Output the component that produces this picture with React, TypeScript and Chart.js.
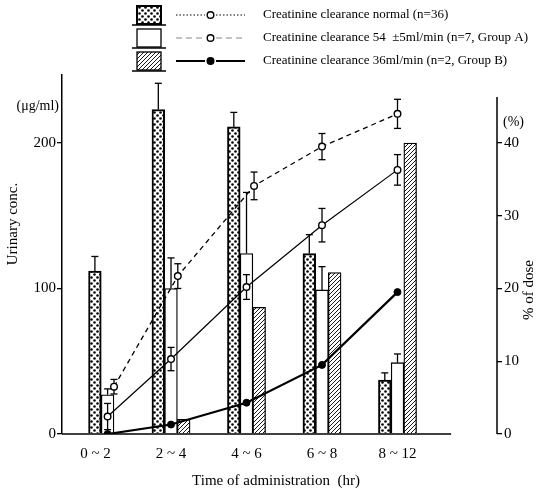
import React, { useEffect, useRef } from 'react';
import { Chart, registerables } from 'chart.js';

Chart.register(...registerables);

// ---- data ----
const categories = ['0 ~ 2', '2 ~ 4', '4 ~ 6', '6 ~ 8', '8 ~ 12'];
const categoryPos = [0, 1, 2, 3, 4];
const groupPos = [0.16, 1, 2, 3, 4];
const normalPos = [0.245, 1.09, 2.1, 3, 4];

// urinary concentration (µg/ml) - left axis
const concNormal = [112, 223, 211, 124, 37];
const concNormalErr = [10, 18, 10, 13, 5];
const concA = [27, 100, 124, 99, 49];
const concAErr = [4, 21, 42, 16, 6];
const concB: (number | null)[] = [null, 10, 87, 111, 200];

// cumulative % of dose - right axis
const doseNormal = [6.5, 21.7, 34.1, 39.5, 44];
const doseNormalErr = [1, 1.7, 1.9, 1.8, 2];
const doseA = [2.4, 10.3, 20.2, 28.7, 36.3];
const doseAErr = [1.8, 1.6, 1.7, 2.3, 2.1];
const doseB = [0, 1.3, 4.3, 9.5, 19.5];

const leftTicks = [0, 100, 200];
const rightTicks = [0, 10, 20, 30, 40];

const legendLabels = [
  'Creatinine clearance normal (n=36)',
  'Creatinine clearance 54  \u00b15ml/min (n=7, Group A)',
  'Creatinine clearance 36ml/min (n=2, Group B)',
];

const FONT = '"Liberation Serif", "Times New Roman", serif';

function makeDots(ctx: CanvasRenderingContext2D) {
  const c = document.createElement('canvas');
  c.width = 6;
  c.height = 6;
  const g = c.getContext('2d')!;
  g.fillStyle = '#fff';
  g.fillRect(0, 0, 6, 6);
  g.fillStyle = '#000';
  for (const [px, py] of [[1.5, 1.5], [4.5, 4.5]]) {
    g.beginPath();
    g.arc(px, py, 1.3, 0, Math.PI * 2);
    g.fill();
  }
  return ctx.createPattern(c, 'repeat')!;
}

function makeHatch(ctx: CanvasRenderingContext2D) {
  const c = document.createElement('canvas');
  c.width = 4;
  c.height = 4;
  const g = c.getContext('2d')!;
  g.fillStyle = '#fff';
  g.fillRect(0, 0, 4, 4);
  g.strokeStyle = '#000';
  g.lineWidth = 0.9;
  g.beginPath();
  g.moveTo(0, 4); g.lineTo(4, 0);
  g.moveTo(-1, 1); g.lineTo(1, -1);
  g.moveTo(3, 5); g.lineTo(5, 3);
  g.stroke();
  return ctx.createPattern(c, 'repeat')!;
}

function seg(ctx: CanvasRenderingContext2D, x1: number, y1: number, x2: number, y2: number) {
  ctx.beginPath();
  ctx.moveTo(x1, y1);
  ctx.lineTo(x2, y2);
  ctx.stroke();
}

export default function App() {
  const ref = useRef<HTMLCanvasElement | null>(null);

  useEffect(() => {
    const canvas = ref.current!;
    const ctx0 = canvas.getContext('2d')!;
    const dots = makeDots(ctx0);
    const hatch = makeHatch(ctx0);

    const barErr: Record<number, { vals: (number | null)[]; errs: number[] }> = {
      0: { vals: concNormal, errs: concNormalErr },
      1: { vals: concA, errs: concAErr },
    };
    const lineErr: Record<number, { vals: number[]; errs: number[] }> = {
      3: { vals: doseNormal, errs: doseNormalErr },
      4: { vals: doseA, errs: doseAErr },
    };

    const decor = {
      id: 'decor',
      afterDatasetDraw(chart: any, args: any) {
        const e = barErr[args.index];
        if (!e) return;
        const { ctx } = chart;
        const y = chart.scales.y;
        ctx.save();
        ctx.strokeStyle = '#000';
        ctx.lineWidth = 1.3;
        args.meta.data.forEach((bar: any, i: number) => {
          const v = e.vals[i];
          if (v == null) return;
          const b = y.getPixelForValue(v);
          const t = y.getPixelForValue(v + e.errs[i]);
          seg(ctx, bar.x, b, bar.x, t);
          seg(ctx, bar.x - 3.5, t, bar.x + 3.5, t);
        });
        ctx.restore();
      },
      beforeDatasetDraw(chart: any, args: any) {
        const e = lineErr[args.index];
        if (!e) return;
        const { ctx } = chart;
        const y2 = chart.scales.y2;
        ctx.save();
        ctx.strokeStyle = '#000';
        ctx.lineWidth = 1.3;
        args.meta.data.forEach((pt: any, i: number) => {
          const lo = y2.getPixelForValue(e.vals[i] - e.errs[i]);
          const hi = y2.getPixelForValue(e.vals[i] + e.errs[i]);
          seg(ctx, pt.x, lo, pt.x, hi);
          seg(ctx, pt.x - 3.5, lo, pt.x + 3.5, lo);
          seg(ctx, pt.x - 3.5, hi, pt.x + 3.5, hi);
        });
        ctx.restore();
      },
      afterDraw(chart: any) {
        const { ctx, chartArea, scales } = chart;
        const x = scales.x;
        const y = scales.y;
        const y2 = scales.y2;
        ctx.save();
        ctx.strokeStyle = '#000';
        ctx.fillStyle = '#000';
        // x axis baseline
        ctx.lineWidth = 1.5;
        seg(ctx, chartArea.left, chartArea.bottom, x.getPixelForValue(4.71), chartArea.bottom);
        // right axis line
        seg(ctx, chartArea.right, y2.getPixelForValue(46.3), chartArea.right, chartArea.bottom);

        // unit labels
        ctx.font = `14px ${FONT}`;
        ctx.textBaseline = 'middle';
        ctx.textAlign = 'right';
        ctx.fillText('(\u03bcg/ml)', chartArea.left - 3, y.getPixelForValue(225));
        ctx.textAlign = 'left';
        ctx.fillText('(%)', chartArea.right + 6, y2.getPixelForValue(42.8));

        // axis titles
        ctx.font = `15px ${FONT}`;
        ctx.textAlign = 'center';
        ctx.fillText('Time of administration  (hr)', 276, 481);
        ctx.save();
        ctx.translate(13, 224);
        ctx.rotate(-Math.PI / 2);
        ctx.fillText('Urinary conc.', 0, 0);
        ctx.restore();
        ctx.save();
        ctx.translate(529, 290);
        ctx.rotate(-Math.PI / 2);
        ctx.fillText('% of dose', 0, 0);
        ctx.restore();

        // legend
        const rows = [15, 38, 61];
        const fills = [dots, '#fff', hatch];
        rows.forEach((ry, i) => {
          ctx.lineWidth = i === 0 ? 2 : 1.3;
          ctx.fillStyle = fills[i];
          ctx.fillRect(137, ry - 9, 24, 18);
          ctx.strokeRect(137, ry - 9, 24, 18);
          ctx.lineWidth = 1.5;
          seg(ctx, 132, ry + 10, 166, ry + 10);
          // line sample
          ctx.save();
          if (i === 0) {
            ctx.lineWidth = 1;
            ctx.setLineDash([1.5, 2]);
            ctx.strokeStyle = '#000';
          } else if (i === 1) {
            ctx.lineWidth = 1;
            ctx.setLineDash([6, 4]);
            ctx.strokeStyle = '#888';
          } else {
            ctx.lineWidth = 2;
            ctx.strokeStyle = '#000';
          }
          seg(ctx, 176, ry, 205, ry);
          seg(ctx, 216, ry, 245, ry);
          ctx.restore();
          ctx.beginPath();
          ctx.arc(210.5, ry, 3.3, 0, Math.PI * 2);
          ctx.fillStyle = i === 2 ? '#000' : '#fff';
          ctx.fill();
          ctx.lineWidth = 1.4;
          ctx.stroke();
          ctx.fillStyle = '#000';
          ctx.font = `13px ${FONT}`;
          ctx.textAlign = 'left';
          ctx.textBaseline = 'middle';
          ctx.fillText(legendLabels[i], 263, ry);
        });
        ctx.restore();
      },
    };

    const tickFont = { family: FONT, size: 15 };

    const chart = new Chart(canvas, {
      type: 'bar',
      data: {
        datasets: [
          {
            type: 'bar',
            label: 'normal conc',
            data: concNormal.map((v, i) => ({ x: groupPos[i], y: v })),
            backgroundColor: dots,
            borderColor: '#000',
            borderWidth: 2,
            barThickness: 12.7,
            yAxisID: 'y',
            order: 2,
          },
          {
            type: 'bar',
            label: 'A conc',
            data: concA.map((v, i) => ({ x: groupPos[i], y: v })),
            backgroundColor: '#fff',
            borderColor: '#000',
            borderWidth: 1.3,
            barThickness: 12.7,
            yAxisID: 'y',
            order: 2,
          },
          {
            type: 'bar',
            label: 'B conc',
            data: concB.map((v, i) => ({ x: groupPos[i], y: v })),
            backgroundColor: hatch,
            borderColor: '#000',
            borderWidth: 1.3,
            barThickness: 12.7,
            yAxisID: 'y',
            order: 2,
          },
          {
            type: 'line',
            label: 'normal dose',
            data: doseNormal.map((v, i) => ({ x: normalPos[i], y: v })),
            borderColor: '#000',
            borderWidth: 1.3,
            borderDash: [5, 4],
            pointRadius: 3.3,
            pointBackgroundColor: '#fff',
            pointBorderColor: '#000',
            pointBorderWidth: 1.4,
            yAxisID: 'y2',
            order: 1,
          },
          {
            type: 'line',
            label: 'A dose',
            data: doseA.map((v, i) => ({ x: groupPos[i], y: v })),
            borderColor: '#000',
            borderWidth: 1.2,
            pointRadius: 3.3,
            pointBackgroundColor: '#fff',
            pointBorderColor: '#000',
            pointBorderWidth: 1.4,
            yAxisID: 'y2',
            order: 1,
          },
          {
            type: 'line',
            label: 'B dose',
            data: doseB.map((v, i) => ({ x: groupPos[i], y: v })),
            borderColor: '#000',
            borderWidth: 2.2,
            pointRadius: 3.5,
            pointBackgroundColor: '#000',
            pointBorderColor: '#000',
            pointBorderWidth: 1,
            yAxisID: 'y2',
            order: 1,
          },
        ],
      },
      options: {
        responsive: false,
        animation: false,
        layout: { padding: { top: 75, left: 0, right: 0, bottom: 0 } },
        plugins: { legend: { display: false }, tooltip: { enabled: false } },
        scales: {
          x: {
            type: 'linear',
            offset: false,
            min: -0.444,
            max: 5.318,
            afterBuildTicks: (s: any) => {
              s.ticks = categoryPos.map((v) => ({ value: v }));
            },
            afterFit: (s: any) => {
              s.height = 59;
            },
            ticks: {
              font: tickFont,
              color: '#000',
              padding: 11,
              maxRotation: 0,
              autoSkip: false,
              callback: (v: any) => {
                const k = categoryPos.indexOf(Number(v));
                return k >= 0 ? categories[k] : '';
              },
            },
            grid: { display: false, drawTicks: false, offset: false },
            border: { display: false },
          },
          y: {
            position: 'left',
            min: 0,
            max: 246.7,
            afterBuildTicks: (s: any) => {
              s.ticks = leftTicks.map((v) => ({ value: v }));
            },
            afterFit: (s: any) => {
              s.width = 62;
            },
            ticks: { font: tickFont, color: '#000', padding: 1 },
            grid: { drawOnChartArea: false, tickLength: 5, color: '#000', lineWidth: 1.3 },
            border: { display: true, color: '#000', width: 1.5 },
          },
          y2: {
            position: 'right',
            min: 0,
            max: 49.34,
            afterBuildTicks: (s: any) => {
              s.ticks = rightTicks.map((v) => ({ value: v }));
            },
            afterFit: (s: any) => {
              s.width = 42;
            },
            ticks: { font: tickFont, color: '#000', padding: 2 },
            grid: { drawOnChartArea: false, tickLength: 5, color: '#000', lineWidth: 1.3 },
            border: { display: false },
          },
        },
      },
      plugins: [decor],
    } as any);

    return () => chart.destroy();
  }, []);

  return (
    <div style={{ position: 'fixed', left: 0, top: 0, width: 539, height: 493, background: '#fff' }}>
      <canvas ref={ref} width={539} height={493} style={{ width: 539, height: 493, display: 'block' }} />
    </div>
  );
}
